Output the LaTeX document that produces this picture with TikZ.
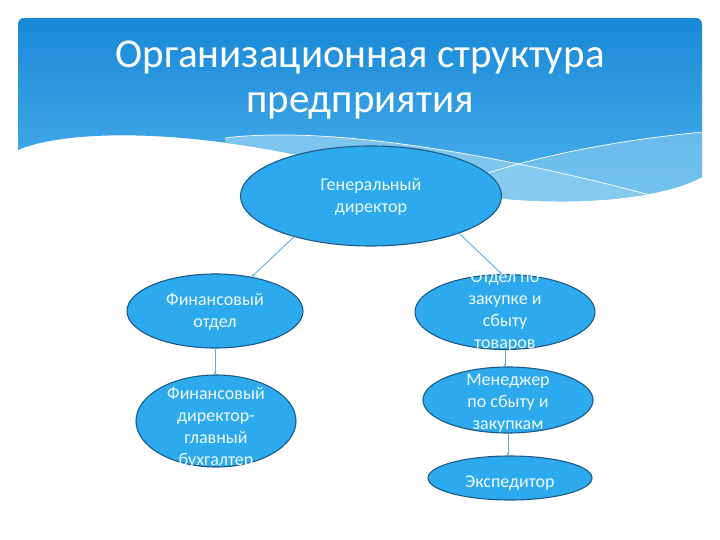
\documentclass[tikz,border=0pt]{standalone}
\usepackage{fontspec}
\setmainfont{Carlito}
\usetikzlibrary{shapes.geometric,arrows.meta}
\definecolor{hdrtop}{HTML}{1888D8}
\definecolor{hdrbot}{HTML}{4FB3EC}
\definecolor{bandc}{HTML}{8CCDF0}
\definecolor{ellfill}{HTML}{2DAAEE}
\definecolor{elldraw}{HTML}{1C5A86}
\definecolor{conn}{HTML}{5AAEE0}
\definecolor{txtc}{HTML}{EEF8FF}
\tikzset{
  oval/.style={ellipse, draw=elldraw, line width=1.1pt, fill=ellfill, inner sep=0pt,
    text=txtc, font=\fontsize{18}{22}\selectfont},
  link/.style={draw=conn, line width=0.9pt, -{Stealth[length=3pt,width=3pt]}},
  wline/.style={draw=white, line width=0.7pt}
}
\newcommand{\ovtext}[2][-7pt]{\raisebox{#1}{\smash{\begin{tabular}{@{}c@{}}#2\end{tabular}}}}
\begin{document}
\begin{tikzpicture}[x=1pt,y=-1pt]
\useasboundingbox (0,0) rectangle (720,540);
\fill[white] (0,0) rectangle (720,540);
% header
\def\hdrpath{(18,150) [rounded corners=6pt] -- (18,18) -- (702,18) [sharp corners] -- (702,177)
  .. controls (670,195) and (600,205) .. (520,200)
  .. controls (450,195) and (380,180) .. (330,162)
  .. controls (170,125) and (60,132) .. (18,150) -- cycle}
\shade[top color=hdrtop, bottom color=hdrbot] \hdrpath;
\begin{scope}
  \clip \hdrpath;
  \fill[bandc, opacity=0.8] (225,138) .. controls (330,125) and (500,155) .. (650,195) -- (650,230) -- (225,230) -- cycle;
  \fill[bandc, opacity=0.6] (488,173) .. controls (560,150) and (640,138) .. (703,132) -- (703,230) -- (488,230) -- cycle;
  \draw[wline] (225,138) .. controls (330,125) and (500,155) .. (650,195);
  \draw[wline] (488,173) .. controls (560,150) and (640,138) .. (703,132);
\end{scope}
\node[text=white, font=\fontsize{41}{45}\selectfont, align=center] (title) at (360,80)
  {Организационная структура\\предприятия};
% nodes
\node[oval, minimum width=261pt, minimum height=100pt] (gen) at (371,196)
  {\ovtext[-10pt]{Генеральный\\директор}};
\node[oval, minimum width=176pt, minimum height=74pt] (fin) at (215,311)
  {\ovtext[-10pt]{Финансовый\\отдел}};
\node[oval, minimum width=160pt, minimum height=92pt] (fdir) at (216,421)
  {\ovtext[-22pt]{Финансовый\\директор-\\главный\\бухгалтер}};
\node[oval, minimum width=180pt, minimum height=75pt] (otd) at (505,312)
  {\ovtext[-7pt]{Отдел по\\закупке и\\сбыту\\товаров}};
\node[oval, minimum width=170pt, minimum height=66pt] (men) at (508,400)
  {\ovtext[-15pt]{Менеджер\\по сбыту и\\закупкам}};
\node[oval, minimum width=164pt, minimum height=44pt] (exp) at (510,478)
  {\ovtext[-18pt]{Экспедитор}};
% connectors
\draw[link] (gen.208) -- (fin.43);
\draw[link] (gen.337) -- (otd.95);
\draw[link] (fin.south) -- (fin.south |- fdir.north);
\draw[link] (otd.south) -- (otd.south |- men.north);
\draw[link] (men.south) -- (men.south |- exp.north);
\end{tikzpicture}
\end{document}
